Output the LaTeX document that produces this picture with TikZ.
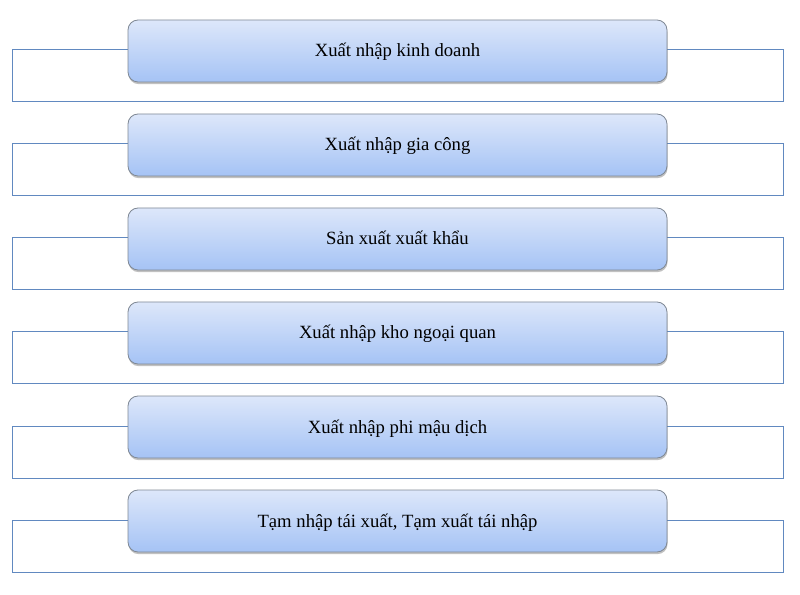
\documentclass[tikz,border=0pt]{standalone}
\usepackage{fontspec}
\setmainfont{Liberation Serif}
\usetikzlibrary{shadows}
\definecolor{boxtop}{HTML}{DDE7FA}
\definecolor{boxbot}{HTML}{A5C3F5}
\definecolor{boxline}{HTML}{7F8894}
\definecolor{frameline}{HTML}{6189C0}
\begin{document}
\begin{tikzpicture}[x=0.75pt,y=-0.75pt,
      kind/.style={draw=boxline, line width=0.6pt, rounded corners=7.5pt,
         top color=boxtop, bottom color=boxbot,
         minimum width=404.25pt, minimum height=46.5pt, inner sep=0pt,
         text height=12pt, text depth=3pt,
         font=\fontsize{14}{16}\selectfont,
         drop shadow={shadow xshift=0.4pt, shadow yshift=-1.6pt, opacity=0.35, fill=black!70}},
      frame/.style={draw=frameline, line width=0.75pt}]
   \useasboundingbox (0,0) rectangle (800,595);
   \def\step{94}
   \foreach \i/\txt in {0/Xuất nhập kinh doanh, 1/Xuất nhập gia công,
         2/Sản xuất xuất khẩu, 3/Xuất nhập kho ngoại quan,
         4/Xuất nhập phi mậu dịch, 5/{Tạm nhập tái xuất, Tạm xuất tái nhập}} {
      \pgfmathsetmacro\top{20+\i*\step}
      % frame behind the box
      \draw[frame] (12,\top+30) rectangle (783,\top+82);
      \node[kind] (kind\i) at (397.5,\top+31) {\txt};
   }
\end{tikzpicture}
\end{document}
